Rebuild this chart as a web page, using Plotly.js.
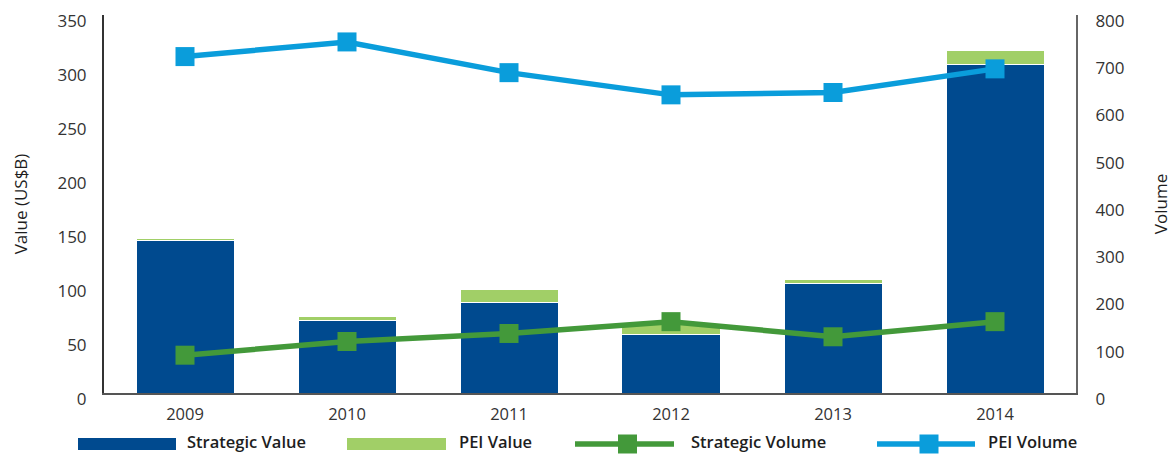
<!DOCTYPE html>
<html>
<head>
<meta charset="utf-8">
<script src="https://cdn.plot.ly/plotly-3.0.1.min.js"></script>
<style>html,body{margin:0;padding:0;background:#fff;}#chart{width:1172px;height:454px;}</style>
</head>
<body>
<div id="chart"></div>
<script>
const years = ['2009', '2010', '2011', '2012', '2013', '2014'];
const strategicValue = [141, 67.5, 83.5, 54, 101, 304];
const peiValue = [2.5, 3, 12.5, 10, 4.5, 13];
const strategicVolume = [80, 109, 126, 151, 119, 151];
const peiVolume = [712, 743, 678, 631, 636, 686];
const legendLabels = ['Strategic Value', 'PEI Value', 'Strategic Volume', 'PEI Volume'];

const C_DARK = '#004A8F', C_LIGHT = '#A1CF67', C_GREEN = '#43993A', C_BLUE = '#0A9DDB';
const FONT = '"Open Sans", "Noto Sans", sans-serif';

// plot area geometry (pixels) for legend placement
const L = 104, R = 1076, T = 15, B = 393;
const px = x => (x - L) / (R - L);
const py = y => (B - y) / (B - T);

const traces = [
  {type: 'bar', x: years, y: strategicValue, name: legendLabels[0],
   marker: {color: C_DARK, line: {color: '#ffffff', width: 1}}, yaxis: 'y'},
  {type: 'bar', x: years, y: peiValue, name: legendLabels[1],
   marker: {color: C_LIGHT, line: {color: '#ffffff', width: 1}}, yaxis: 'y'},
  {type: 'scatter', mode: 'lines+markers', x: years, y: strategicVolume, name: legendLabels[2],
   line: {color: C_GREEN, width: 5.5}, marker: {symbol: 'square', size: 19, color: C_GREEN}, yaxis: 'y2'},
  {type: 'scatter', mode: 'lines+markers', x: years, y: peiVolume, name: legendLabels[3],
   line: {color: C_BLUE, width: 5.5}, marker: {symbol: 'square', size: 19, color: C_BLUE}, yaxis: 'y2'}
];

// manual legend
const shapes = [];
const annotations = [];
const legendY = 444;
const textY = 441.5;
const items = [
  {x0: 78, x1: 176, tx: 186, kind: 'rect', color: C_DARK},
  {x0: 347, x1: 446, tx: 458, kind: 'rect', color: C_LIGHT},
  {x0: 575, x1: 674, tx: 690, kind: 'line', color: C_GREEN},
  {x0: 877, x1: 975, tx: 987, kind: 'line', color: C_BLUE}
];
items.forEach((it, i) => {
  if (it.kind === 'rect') {
    shapes.push({type: 'rect', xref: 'paper', yref: 'paper', x0: px(it.x0), x1: px(it.x1),
      y0: py(legendY + 6), y1: py(legendY - 6), fillcolor: it.color, line: {width: 0}});
  } else {
    shapes.push({type: 'line', xref: 'paper', yref: 'paper', x0: px(it.x0), x1: px(it.x1),
      y0: py(legendY), y1: py(legendY), line: {color: it.color, width: 5.5}});
    const cx = (it.x0 + it.x1) / 2 + 3;
    shapes.push({type: 'rect', xref: 'paper', yref: 'paper', x0: px(cx - 9.5), x1: px(cx + 9.5),
      y0: py(legendY + 9.5), y1: py(legendY - 9.5), fillcolor: it.color, line: {width: 0}});
  }
  annotations.push({xref: 'paper', yref: 'paper', x: px(it.tx), y: py(textY), xanchor: 'left', yanchor: 'middle',
    text: legendLabels[i], showarrow: false, borderpad: 0,
    font: {family: FONT, size: 16.5, color: '#1e1e1e', weight: 600}});
});

const layout = {
  width: 1172, height: 454,
  margin: {l: L, r: 1172 - R, t: T, b: 454 - B},
  paper_bgcolor: '#fff', plot_bgcolor: '#fff',
  barmode: 'stack', bargap: 0.395,
  showlegend: false,
  font: {family: FONT, size: 16, color: '#333'},
  xaxis: {type: 'category', showline: true, linecolor: '#555', linewidth: 1.5, ticks: '',
          showgrid: false, zeroline: false, tickfont: {size: 16.5, color: '#333'}, ticklabelstandoff: 6},
  yaxis: {range: [0, 350.001], tickvals: [0, 50, 100, 150, 200, 250, 300, 350], showline: true, linecolor: '#333', linewidth: 2, ticks: '',
          showgrid: false, zeroline: false, tickfont: {size: 17, color: '#333'}, ticklabelstandoff: 12,
          ticklabelshift: 6, ticklabeloverflow: 'allow',
          title: {text: 'Value (US$B)', font: {size: 17, color: '#1e1e1e'}, standoff: 25}},
  yaxis2: {range: [0, 800.001], tickvals: [0, 100, 200, 300, 400, 500, 600, 700, 800], overlaying: 'y', side: 'right', showline: true, linecolor: '#666',
           linewidth: 2, ticks: '', showgrid: false, zeroline: false, tickfont: {size: 17, color: '#333'},
           ticklabelstandoff: 14, ticklabelshift: 6, ticklabeloverflow: 'allow',
           title: {text: 'Volume', font: {size: 17, color: '#1e1e1e'}, standoff: 32}},
  shapes: shapes,
  annotations: annotations
};

Plotly.newPlot('chart', traces, layout, {displayModeBar: false, staticPlot: true});
</script>
</body>
</html>
